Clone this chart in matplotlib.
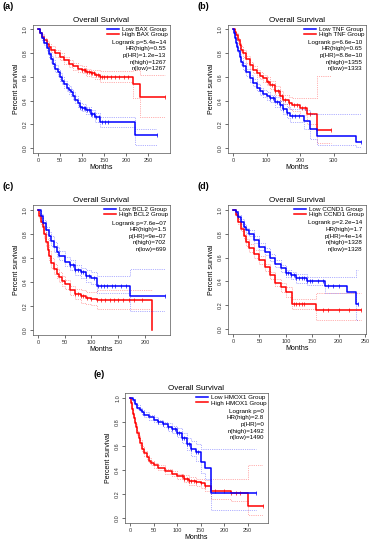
import numpy as np
import matplotlib
matplotlib.use("Agg")
import matplotlib.pyplot as plt

plt.rcParams["font.family"] = ["Liberation Sans", "DejaVu Sans"]

BLUE = "#0000ff"
RED = "#ff0000"

# -----------------------------------------
# (a) BAX
# -----------------------------------------
a_low_t = [0, 5, 10, 15, 20, 25, 30, 35, 40, 45, 50, 55, 60, 65, 70, 75, 80, 85, 90, 95, 100, 110, 120, 130, 140, 220, 270]
a_low_s = [1.0, 0.97, 0.93, 0.89, 0.84, 0.79, 0.75, 0.71, 0.67, 0.64, 0.60, 0.57, 0.54, 0.51, 0.49, 0.47, 0.44, 0.41, 0.38, 0.35, 0.34, 0.32, 0.29, 0.26, 0.22, 0.11, 0.11]
a_low_lo = [1.0, 0.96, 0.91, 0.87, 0.82, 0.77, 0.72, 0.68, 0.64, 0.61, 0.57, 0.54, 0.51, 0.48, 0.46, 0.44, 0.41, 0.38, 0.35, 0.32, 0.31, 0.29, 0.26, 0.22, 0.18, 0.03, 0.03]
a_low_hi = [1.0, 0.98, 0.95, 0.91, 0.86, 0.81, 0.78, 0.74, 0.70, 0.67, 0.63, 0.60, 0.57, 0.54, 0.52, 0.50, 0.47, 0.44, 0.41, 0.38, 0.37, 0.35, 0.32, 0.30, 0.26, 0.16, 0.16]
a_high_t = [0, 5, 10, 15, 20, 25, 30, 40, 50, 60, 70, 80, 90, 100, 110, 120, 130, 140, 215, 233, 288]
a_high_s = [1.0, 0.97, 0.94, 0.91, 0.88, 0.85, 0.83, 0.80, 0.77, 0.74, 0.71, 0.69, 0.67, 0.66, 0.64, 0.63, 0.62, 0.60, 0.54, 0.43, 0.43]
a_high_lo = [1.0, 0.96, 0.93, 0.89, 0.86, 0.83, 0.81, 0.77, 0.74, 0.71, 0.68, 0.66, 0.64, 0.63, 0.61, 0.60, 0.58, 0.56, 0.42, 0.26, 0.26]
a_high_hi = [1.0, 0.98, 0.96, 0.93, 0.90, 0.88, 0.86, 0.83, 0.80, 0.77, 0.74, 0.72, 0.70, 0.69, 0.67, 0.66, 0.66, 0.65, 0.66, 0.62, 0.62]
a_low_cens = [95, 100, 105, 108, 112, 116, 120, 124, 128, 133, 138, 145, 152, 160, 270]
a_high_cens = [100, 104, 108, 112, 116, 120, 124, 128, 132, 136, 140, 145, 150, 158, 165, 175, 185, 195, 205, 288]
a_stats = ["Logrank p=5.4e\u221214", "HR(high)=0.55", "p(HR)=1.2e\u221213", "n(high)=1267", "n(low)=1267"]

# -----------------------------------------
# (b) TNF
# -----------------------------------------
b_low_t = [0, 3, 6, 9, 12, 15, 20, 25, 30, 40, 50, 60, 70, 80, 90, 100, 110, 125, 140, 150, 160, 170, 210, 230, 250, 365, 380]
b_low_s = [1.0, 0.97, 0.93, 0.89, 0.85, 0.82, 0.77, 0.73, 0.69, 0.64, 0.59, 0.55, 0.51, 0.48, 0.46, 0.44, 0.42, 0.39, 0.36, 0.33, 0.30, 0.27, 0.23, 0.16, 0.10, 0.05, 0.05]
b_low_lo = [1.0, 0.96, 0.92, 0.87, 0.83, 0.80, 0.75, 0.70, 0.66, 0.61, 0.56, 0.52, 0.48, 0.45, 0.43, 0.41, 0.39, 0.35, 0.32, 0.29, 0.25, 0.22, 0.16, 0.08, 0.03, 0.01, 0.01]
b_low_hi = [1.0, 0.98, 0.94, 0.91, 0.87, 0.84, 0.79, 0.76, 0.72, 0.67, 0.62, 0.58, 0.54, 0.51, 0.49, 0.47, 0.45, 0.43, 0.40, 0.37, 0.35, 0.33, 0.32, 0.29, 0.29, 0.29, 0.29]
b_high_t = [0, 5, 10, 15, 20, 25, 30, 40, 50, 60, 70, 80, 90, 100, 110, 125, 140, 150, 165, 175, 200, 220, 250, 290]
b_high_s = [1.0, 0.98, 0.95, 0.91, 0.87, 0.83, 0.80, 0.75, 0.70, 0.66, 0.63, 0.61, 0.59, 0.56, 0.53, 0.48, 0.44, 0.41, 0.38, 0.36, 0.34, 0.29, 0.15, 0.15]
b_high_lo = [1.0, 0.97, 0.93, 0.89, 0.85, 0.81, 0.77, 0.72, 0.67, 0.63, 0.60, 0.58, 0.56, 0.53, 0.50, 0.45, 0.40, 0.37, 0.33, 0.31, 0.28, 0.20, 0.04, 0.04]
b_high_hi = [1.0, 0.99, 0.97, 0.93, 0.89, 0.86, 0.83, 0.78, 0.73, 0.69, 0.66, 0.64, 0.62, 0.60, 0.57, 0.52, 0.48, 0.45, 0.43, 0.42, 0.42, 0.42, 0.61, 0.61]
b_low_cens = [110, 120, 130, 140, 150, 160, 175, 185, 195, 380]
b_high_cens = [105, 115, 125, 135, 145, 155, 165, 180, 190, 205, 215, 230, 290]
b_stats = ["Logrank p=6.6e\u221210", "HR(high)=0.65", "p(HR)=8.8e\u221210", "n(high)=1355", "n(low)=1333"]

# -----------------------------------------
# (c) BCL2
# -----------------------------------------
c_low_t = [0, 5, 10, 15, 20, 25, 30, 35, 40, 50, 60, 70, 80, 90, 100, 110, 172, 237]
c_low_s = [1.0, 0.95, 0.89, 0.83, 0.78, 0.74, 0.69, 0.65, 0.62, 0.57, 0.54, 0.50, 0.48, 0.45, 0.43, 0.37, 0.28, 0.28]
c_low_lo = [1.0, 0.93, 0.87, 0.80, 0.75, 0.70, 0.65, 0.61, 0.58, 0.53, 0.50, 0.46, 0.43, 0.40, 0.38, 0.31, 0.16, 0.16]
c_low_hi = [1.0, 0.97, 0.92, 0.86, 0.82, 0.78, 0.73, 0.69, 0.66, 0.61, 0.58, 0.54, 0.52, 0.50, 0.48, 0.45, 0.51, 0.51]
c_high_t = [0, 3, 6, 9, 12, 15, 18, 21, 25, 30, 35, 40, 45, 50, 60, 70, 80, 90, 100, 110, 214]
c_high_s = [1.0, 0.95, 0.90, 0.86, 0.80, 0.73, 0.67, 0.62, 0.56, 0.51, 0.47, 0.44, 0.41, 0.38, 0.33, 0.30, 0.28, 0.27, 0.26, 0.25, 0.0]
c_high_lo = [1.0, 0.93, 0.88, 0.83, 0.77, 0.70, 0.63, 0.58, 0.52, 0.47, 0.43, 0.40, 0.37, 0.34, 0.29, 0.26, 0.23, 0.22, 0.21, 0.18, 0.18]
c_high_hi = [1.0, 0.97, 0.92, 0.89, 0.83, 0.76, 0.71, 0.66, 0.60, 0.55, 0.51, 0.48, 0.45, 0.42, 0.37, 0.34, 0.33, 0.32, 0.32, 0.33, 0.33]
c_low_cens = [60, 65, 70, 75, 80, 85, 90, 95, 105, 112, 118, 124, 130, 138, 145, 155, 165, 237]
c_high_cens = [70, 75, 80, 85, 92, 100, 110, 118, 126, 134, 142, 150, 160, 170, 180, 195]
c_stats = ["Logrank p=7.6e\u221207", "HR(high)=1.5", "p(HR)=9e\u221207", "n(high)=702", "n(low)=699"]

# -----------------------------------------
# (d) CCND1
# -----------------------------------------
d_low_t = [0, 5, 10, 15, 20, 25, 30, 40, 50, 60, 70, 80, 90, 100, 110, 120, 140, 175, 215, 232, 237]
d_low_s = [1.0, 0.98, 0.94, 0.90, 0.86, 0.83, 0.80, 0.75, 0.69, 0.65, 0.60, 0.55, 0.51, 0.47, 0.45, 0.43, 0.40, 0.36, 0.31, 0.21, 0.21]
d_low_lo = [1.0, 0.97, 0.93, 0.88, 0.84, 0.81, 0.78, 0.72, 0.66, 0.62, 0.57, 0.52, 0.48, 0.44, 0.42, 0.39, 0.37, 0.30, 0.30, 0.08, 0.08]
d_low_hi = [1.0, 0.99, 0.96, 0.92, 0.88, 0.85, 0.83, 0.78, 0.72, 0.68, 0.63, 0.58, 0.54, 0.50, 0.48, 0.46, 0.44, 0.44, 0.44, 0.50, 0.50]
d_high_t = [0, 5, 10, 15, 20, 25, 30, 40, 50, 60, 70, 80, 90, 100, 112, 157, 242]
d_high_s = [1.0, 0.96, 0.90, 0.84, 0.78, 0.73, 0.68, 0.63, 0.58, 0.52, 0.45, 0.39, 0.35, 0.31, 0.21, 0.16, 0.16]
d_high_lo = [1.0, 0.95, 0.88, 0.82, 0.76, 0.70, 0.65, 0.60, 0.55, 0.49, 0.42, 0.36, 0.31, 0.27, 0.17, 0.08, 0.08]
d_high_hi = [1.0, 0.97, 0.92, 0.86, 0.80, 0.76, 0.71, 0.66, 0.61, 0.55, 0.48, 0.42, 0.39, 0.35, 0.25, 0.30, 0.30]
d_low_cens = [100, 105, 110, 115, 120, 125, 130, 135, 140, 145, 150, 160, 170, 180, 190, 200, 237]
d_high_cens = [115, 120, 125, 130, 135, 170, 180, 200, 220, 242]
d_stats = ["Logrank p=2.2e\u221214", "HR(high)=1.7", "p(HR)=4e\u221214", "n(high)=1328", "n(low)=1328"]

# -----------------------------------------
# (e) HMOX1
# -----------------------------------------
e_low_t = [0, 5, 10, 15, 20, 25, 30, 40, 50, 60, 70, 80, 90, 100, 110, 120, 130, 140, 150, 160, 172, 268]
e_low_s = [1.0, 0.98, 0.95, 0.92, 0.90, 0.88, 0.86, 0.84, 0.82, 0.80, 0.78, 0.76, 0.74, 0.71, 0.67, 0.62, 0.58, 0.55, 0.47, 0.42, 0.21, 0.21]
e_low_lo = [1.0, 0.97, 0.94, 0.91, 0.89, 0.86, 0.84, 0.82, 0.80, 0.78, 0.76, 0.73, 0.71, 0.68, 0.63, 0.57, 0.52, 0.48, 0.38, 0.33, 0.07, 0.07]
e_low_hi = [1.0, 0.99, 0.96, 0.94, 0.92, 0.90, 0.88, 0.86, 0.84, 0.82, 0.80, 0.79, 0.77, 0.75, 0.71, 0.67, 0.64, 0.62, 0.58, 0.58, 0.58, 0.58]
e_high_t = [0, 2, 4, 6, 8, 10, 12, 15, 18, 21, 25, 30, 35, 40, 45, 50, 60, 75, 90, 100, 115, 125, 140, 150, 160, 172, 215, 250, 282]
e_high_s = [1.0, 0.96, 0.91, 0.87, 0.83, 0.79, 0.76, 0.71, 0.67, 0.63, 0.58, 0.54, 0.51, 0.48, 0.46, 0.44, 0.42, 0.39, 0.37, 0.35, 0.33, 0.31, 0.30, 0.29, 0.27, 0.23, 0.21, 0.10, 0.10]
e_high_lo = [1.0, 0.95, 0.90, 0.86, 0.82, 0.78, 0.74, 0.69, 0.65, 0.61, 0.56, 0.52, 0.49, 0.46, 0.44, 0.42, 0.40, 0.37, 0.35, 0.33, 0.30, 0.28, 0.27, 0.25, 0.23, 0.16, 0.14, 0.03, 0.03]
e_high_hi = [1.0, 0.97, 0.92, 0.88, 0.84, 0.80, 0.78, 0.73, 0.69, 0.65, 0.60, 0.56, 0.53, 0.50, 0.48, 0.46, 0.44, 0.41, 0.39, 0.37, 0.36, 0.34, 0.33, 0.33, 0.32, 0.33, 0.33, 0.44, 0.44]
e_low_cens = [60, 70, 80, 90, 95, 100, 105, 110, 115, 120, 125, 130, 140, 145, 268]
e_high_cens = [110, 115, 120, 125, 130, 135, 140, 150, 160, 180, 200, 215, 225, 235, 282]
e_stats = ["Logrank p=0", "HR(high)=2.8", "p(HR)=0", "n(high)=1492", "n(low)=1490"]


def step_value(t, s, x):
    idx = np.searchsorted(np.array(t), np.array(x), side="right") - 1
    return np.array(s)[np.clip(idx, 0, len(s) - 1)]


def km_panel(ax, low, high, gene, stats, xticks, xmax, letter):
    for (t, s, lo, hi, cens), col, lab in [
        (high, RED, f"High {gene} Group"),
        (low, BLUE, f"Low {gene} Group"),
    ]:
        ax.step(t, lo, where="post", color=col, lw=0.5, ls=":", alpha=0.6)
        ax.step(t, hi, where="post", color=col, lw=0.5, ls=":", alpha=0.6)
        ax.step(t, s, where="post", color=col, lw=1.1, label=lab)
        ax.plot(cens, step_value(t, s, cens), ls="none", marker="|",
                ms=2.5, mew=0.5, color=col)

    # legend lines + stats, R style
    handles, labels = ax.get_legend_handles_labels()
    ax.legend(handles[::-1], labels[::-1], loc="upper right", frameon=False,
              fontsize=4.5, handlelength=1.9, handletextpad=0.5,
              borderaxespad=0.1, borderpad=0.15, labelspacing=0.0)
    for i, line in enumerate(stats):
        ax.text(0.975, 0.862 - i * 0.051, line, transform=ax.transAxes,
                ha="right", va="center", fontsize=4.5)

    ax.set_xlim(-xmax * 0.04, xmax * 1.04)
    ax.set_ylim(-0.04, 1.04)
    ax.set_xticks(xticks)
    ax.set_yticks([0.0, 0.2, 0.4, 0.6, 0.8, 1.0])
    ax.set_yticklabels(["0.0", "0.2", "0.4", "0.6", "0.8", "1.0"], rotation=90, va="center")
    ax.tick_params(labelsize=4, length=2, width=0.5, pad=1.5, colors="#333333")
    for sp in ax.spines.values():
        sp.set_linewidth(0.5)
        sp.set_color("#555555")
    ax.set_title("Overall Survival", fontsize=5.8, pad=2)
    ax.set_xlabel("Months", fontsize=5, labelpad=1)
    ax.set_ylabel("Percent survival", fontsize=5, labelpad=2)
    ax.text(-0.22, 1.18, letter, transform=ax.transAxes, fontsize=6.5,
            fontweight="bold", ha="left", va="top")


fig = plt.figure(figsize=(3.73, 5.5), dpi=100)
ax_a = fig.add_axes([0.088, 0.722, 0.367, 0.233])
ax_b = fig.add_axes([0.611, 0.722, 0.370, 0.233])
ax_c = fig.add_axes([0.088, 0.391, 0.367, 0.236])
ax_d = fig.add_axes([0.611, 0.393, 0.370, 0.234])
ax_e = fig.add_axes([0.335, 0.049, 0.383, 0.236])

km_panel(ax_a, (a_low_t, a_low_s, a_low_lo, a_low_hi, a_low_cens),
         (a_high_t, a_high_s, a_high_lo, a_high_hi, a_high_cens),
         "BAX", a_stats, [0, 50, 100, 150, 200, 250], 288, "(a)")
km_panel(ax_b, (b_low_t, b_low_s, b_low_lo, b_low_hi, b_low_cens),
         (b_high_t, b_high_s, b_high_lo, b_high_hi, b_high_cens),
         "TNF", b_stats, [0, 100, 200, 300], 380, "(b)")
km_panel(ax_c, (c_low_t, c_low_s, c_low_lo, c_low_hi, c_low_cens),
         (c_high_t, c_high_s, c_high_lo, c_high_hi, c_high_cens),
         "BCL2", c_stats, [0, 50, 100, 150, 200], 237, "(c)")
km_panel(ax_d, (d_low_t, d_low_s, d_low_lo, d_low_hi, d_low_cens),
         (d_high_t, d_high_s, d_high_lo, d_high_hi, d_high_cens),
         "CCND1", d_stats, [0, 50, 100, 150, 200, 250], 242, "(d)")
km_panel(ax_e, (e_low_t, e_low_s, e_low_lo, e_low_hi, e_low_cens),
         (e_high_t, e_high_s, e_high_lo, e_high_hi, e_high_cens),
         "HMOX1", e_stats, [0, 50, 100, 150, 200, 250], 282, "(e)")

fig.savefig("out.png", dpi=100)
